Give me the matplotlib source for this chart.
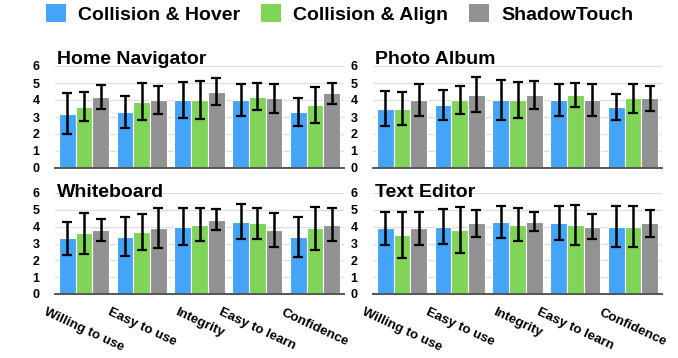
import matplotlib
matplotlib.use("Agg")
import matplotlib.pyplot as plt
import numpy as np
from matplotlib.patches import Patch

categories = ["Willing to use", "Easy to use", "Integrity", "Easy to learn", "Confidence"]
series = ["Collision & Hover", "Collision & Align", "ShadowTouch"]
colors = ["#44A4F7", "#80D457", "#929292"]

panels = ["Home Navigator", "Photo Album", "Whiteboard", "Text Editor"]

means = {
    "Home Navigator": [
        [3.2, 3.3, 4.0, 4.0, 3.3],
        [3.6, 3.9, 4.0, 4.2, 3.7],
        [4.2, 4.0, 4.5, 4.1, 4.4],
    ],
    "Photo Album": [
        [3.5, 3.7, 4.0, 4.0, 3.6],
        [3.5, 4.0, 4.0, 4.3, 4.1],
        [4.0, 4.3, 4.3, 4.0, 4.1],
    ],
    "Whiteboard": [
        [3.3, 3.4, 4.0, 4.3, 3.4],
        [3.6, 3.7, 4.1, 4.2, 3.9],
        [3.8, 3.9, 4.4, 3.8, 4.1],
    ],
    "Text Editor": [
        [3.9, 4.0, 4.3, 4.2, 4.0],
        [3.5, 3.8, 4.1, 4.1, 4.0],
        [3.9, 4.2, 4.3, 4.0, 4.2],
    ],
}

errors = {
    "Home Navigator": [
        [1.2, 0.95, 1.05, 0.94, 0.84],
        [0.86, 1.08, 1.1, 0.8, 1.04],
        [0.7, 0.84, 0.77, 0.87, 0.62],
    ],
    "Photo Album": [
        [1.05, 0.86, 1.2, 0.96, 0.77],
        [0.97, 0.83, 1.07, 0.72, 0.87],
        [0.96, 1.03, 0.84, 0.96, 0.75],
    ],
    "Whiteboard": [
        [0.96, 1.15, 1.08, 1.04, 1.2],
        [1.24, 1.06, 0.98, 0.92, 1.27],
        [0.68, 1.19, 0.62, 1.03, 0.98],
    ],
    "Text Editor": [
        [1.0, 1.04, 0.95, 1.02, 1.21],
        [1.38, 1.35, 0.98, 1.17, 1.21],
        [1.0, 0.81, 0.58, 0.73, 0.81],
    ],
}

yticks = [0, 1, 2, 3, 4, 5, 6]

plt.rcParams['font.family'] = ['Liberation Sans', 'DejaVu Sans']
plt.rcParams['font.weight'] = 'bold'

fig = plt.figure(figsize=(6.78, 3.58), dpi=100)
W, H = 678.0, 358.0
rects = [
    (55, 168, 289, 102),
    (373, 168, 289, 102),
    (55, 294, 289, 101),
    (373, 294, 289, 101),
]
# title baseline offset from the axes top, in pixels (positive = above)
title_off = [2, 2, -4, -4]

bw = 0.29
x = np.arange(len(categories))
for i, name in enumerate(panels):
    l, b, w, h = rects[i]
    ax = fig.add_axes([l / W, 1 - b / H, w / W, h / H])
    for s in range(3):
        ax.bar(x + (s - 1) * bw, means[name][s], width=bw, color=colors[s],
               edgecolor='white', linewidth=0.8, zorder=2)
        ax.errorbar(x + (s - 1) * bw, means[name][s], yerr=errors[name][s],
                    fmt='none', ecolor='black', elinewidth=1.8, capsize=3.5,
                    capthick=1.6, zorder=3)
    ax.set_xlim(-0.5, len(categories) - 0.5)
    ax.set_ylim(0, 6)
    ax.set_yticks(yticks)
    ax.set_yticklabels([str(t) for t in yticks], fontsize=9, fontweight='bold')
    ax.tick_params(axis='y', length=0, pad=11)
    ax.grid(axis='y', color='#DDDDDD', linewidth=0.9, zorder=0)
    ax.set_axisbelow(True)
    for sp in ['top', 'right', 'left']:
        ax.spines[sp].set_visible(False)
    ax.spines['bottom'].set_color('#555555')
    ax.spines['bottom'].set_linewidth(1.4)
    ax.spines['bottom'].set_zorder(4)
    ax.set_xticks(x)
    if i >= 2:
        ax.set_xticklabels(categories, rotation=-25, ha='center', va='top',
                           fontsize=9.6, fontweight='bold')
        ax.tick_params(axis='x', length=0, pad=9)
    else:
        ax.set_xticklabels([])
        ax.tick_params(axis='x', length=0)
    ax.set_title(name, loc='left', fontsize=14, fontweight='bold', pad=0,
                 x=0.006, y=1 + title_off[i] / h, zorder=5)

handles = [Patch(facecolor=c, edgecolor='none') for c in colors]
fig.legend(handles, series, loc='upper left', bbox_to_anchor=(28.5 / W, 1 + 13 / H),
           ncol=3, frameon=False, handlelength=1.03, handleheight=0.98,
           handletextpad=0.62, columnspacing=1.08, prop={'weight': 'bold', 'size': 14})

fig.savefig("out.png", dpi=100)
